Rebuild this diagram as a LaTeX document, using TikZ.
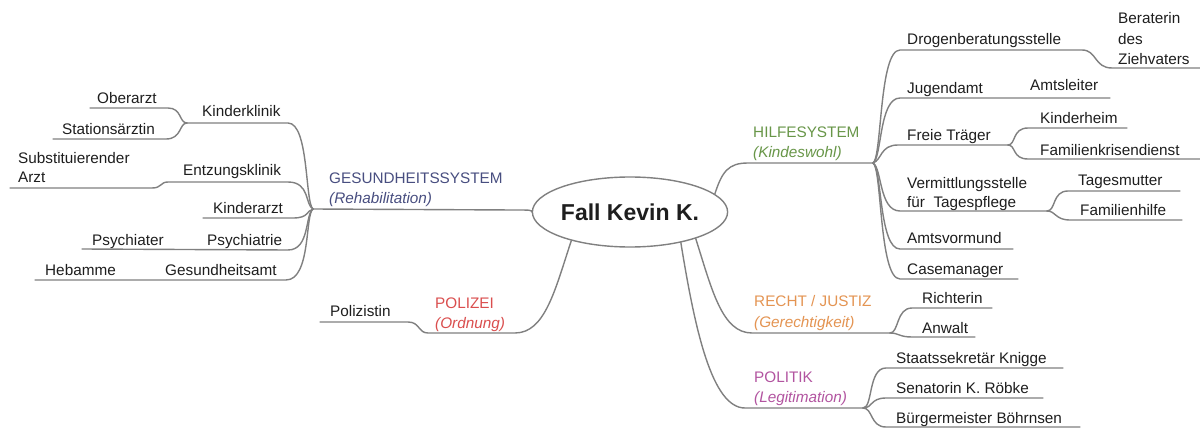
\documentclass[tikz,border=0pt]{standalone}
\usepackage{fontspec}
\setmainfont{Liberation Sans}
\usetikzlibrary{shapes.geometric}
\definecolor{ln}{RGB}{128,128,128}
\definecolor{txt}{RGB}{30,30,30}
\definecolor{cgs}{RGB}{72,78,128}
\definecolor{chs}{RGB}{104,150,72}
\definecolor{crj}{RGB}{228,148,82}
\definecolor{cpl}{RGB}{178,84,160}
\definecolor{cpo}{RGB}{218,78,78}
\begin{document}
\begin{tikzpicture}[x=1pt,y=-1pt,
  lbl/.style={anchor=base west, inner sep=0pt, font=\fontsize{15.3}{18}\selectfont, text=txt},
  cat/.style={lbl},
  sub/.style={lbl, font=\fontsize{15.3}{18}\selectfont\itshape},
  conn/.style={draw=ln, line width=1.4pt, line cap=round},
  center/.style={ellipse, draw=ln, line width=1.4pt, minimum width=175pt, minimum height=70pt, inner sep=0pt, font=\fontsize{23}{26}\selectfont\bfseries, text=txt}]
\useasboundingbox (0,0) rectangle (1200,428);
\fill[white] (0,0) rectangle (1200,428);

\node[center] (ell) at (630,212) {Fall Kevin K.};

% ---------- left: Gesundheitssystem ----------
\node[cat, text=cgs] (gs1) at (329,183) {GESUNDHEITSSYSTEM};
\node[sub, text=cgs] (gs2) at (329,203) {(Rehabilitation)};
\node[lbl] (kk) at (202,117) {Kinderklinik};
\node[lbl] (ob) at (97,103) {Oberarzt};
\node[lbl] (st) at (62,134) {Stationsärztin};
\node[lbl] (ek) at (183,175) {Entzungsklinik};
\node[lbl] (sa1) at (18,163) {Substituierender};
\node[lbl] (sa2) at (18,182) {Arzt};
\node[lbl] (ka) at (213,213) {Kinderarzt};
\node[lbl] (pt) at (207,245) {Psychiatrie};
\node[lbl] (pr) at (92,245) {Psychiater};
\node[lbl] (ga) at (165,275) {Gesundheitsamt};
\node[lbl] (hb) at (45,275) {Hebamme};

\coordinate (hubL) at (313,209);
\coordinate (kkHub) at (187,123);
\coordinate (obL) at (90,108);
\coordinate (stL) at (53,139);
\coordinate (saL) at (10,188);
\coordinate (kaL) at (203,218);
\coordinate (prL) at (82,249);
\coordinate (hbL) at (35,280);

\draw[conn] (ell.west) .. controls (532,210) and (530,210) .. (515,210) -- (hubL);
\draw[conn] (hubL) .. controls (305,203) and (309,123) .. (288,123) -- (kkHub);
\draw[conn] (kkHub) .. controls (179,123) and (182,108) .. (168,108) -- (obL);
\draw[conn] (kkHub) .. controls (179,123) and (182,139) .. (166,139) -- (stL);
\draw[conn] (hubL) .. controls (305,205) and (310,182) .. (288,182) -- (168,182)
  .. controls (160,182) and (162,188) .. (152,188) -- (saL);
\draw[conn] (hubL) .. controls (306,211) and (309,218) .. (293,218) -- (kaL);
\draw[conn] (hubL) .. controls (305,214) and (310,250) .. (288,250) -- (prL);
\draw[conn] (hubL) .. controls (305,214) and (311,280) .. (286,280) -- (hbL);

% ---------- Polizei ----------
\node[cat, text=cpo] (po1) at (435,308) {POLIZEI};
\node[sub, text=cpo] (po2) at (435,328) {(Ordnung)};
\node[lbl] (pz) at (330,316) {Polizistin};
\coordinate (pzL) at (320,322);
\draw[conn] (ell.206) .. controls (555,290) and (545,333) .. (515,333) -- (428,333)
  .. controls (418,333) and (420,322) .. (408,322) -- (pzL);

% ---------- right: Hilfesystem ----------
\node[cat, text=chs] (hs1) at (753,137) {HILFESYSTEM};
\node[sub, text=chs] (hs2) at (753,157) {(Kindeswohl)};
\node[lbl] (dg) at (907,45) {Drogenberatungsstelle};
\node[lbl] (bz1) at (1118,24) {Beraterin};
\node[lbl] (bz2) at (1118,45) {des};
\node[lbl] (bz3) at (1118,65) {Ziehvaters};
\node[lbl] (ja) at (907,93) {Jugendamt};
\node[lbl] (al) at (1030,91) {Amtsleiter};
\node[lbl] (ft) at (907,140) {Freie Träger};
\node[lbl] (kh) at (1040,124) {Kinderheim};
\node[lbl] (fk) at (1040,155) {Familienkrisendienst};
\node[lbl] (vs1) at (907,188) {Vermittlungsstelle};
\node[lbl] (vs2) at (907,207) {für\ \ Tagespflege};
\node[lbl] (tm) at (1078,185) {Tagesmutter};
\node[lbl] (fh) at (1080,215) {Familienhilfe};
\node[lbl] (av) at (907,243) {Amtsvormund};
\node[lbl] (cm) at (907,274) {Casemanager};

\coordinate (hubR) at (873,163);
\coordinate (bzR) at (1200,68);
\coordinate (alR) at (1110,98);
\coordinate (ftHub) at (1008,145);
\coordinate (khR) at (1127,128);
\coordinate (fkR) at (1200,159);
\coordinate (vsHub) at (1047,211);
\coordinate (tmR) at (1180,191);
\coordinate (fhR) at (1182,220);
\coordinate (avR) at (1013,249);
\coordinate (cmR) at (1018,279);

\draw[conn] (ell.12) .. controls (722,172) and (728,163) .. (748,163) -- (hubR);
\draw[conn] (hubR) .. controls (882,158) and (879,50) .. (900,50) -- (1082,50)
  .. controls (1097,50) and (1094,68) .. (1112,68) -- (bzR);
\draw[conn] (hubR) .. controls (882,158) and (879,98) .. (900,98) -- (alR);
\draw[conn] (hubR) .. controls (882,160) and (880,145) .. (898,145) -- (ftHub);
\draw[conn] (ftHub) .. controls (1016,145) and (1012,128) .. (1028,128) -- (khR);
\draw[conn] (ftHub) .. controls (1016,145) and (1012,159) .. (1028,159) -- (fkR);
\draw[conn] (hubR) .. controls (882,168) and (879,211) .. (900,211) -- (vsHub);
\draw[conn] (vsHub) .. controls (1056,211) and (1052,191) .. (1068,191) -- (tmR);
\draw[conn] (vsHub) .. controls (1056,211) and (1055,220) .. (1070,220) -- (fhR);
\draw[conn] (hubR) .. controls (882,168) and (879,249) .. (900,249) -- (avR);
\draw[conn] (hubR) .. controls (882,168) and (879,279) .. (900,279) -- (cmR);

% ---------- Recht / Justiz ----------
\node[cat, text=crj] (rj1) at (754,306) {RECHT / JUSTIZ};
\node[sub, text=crj] (rj2) at (754,327) {(Gerechtigkeit)};
\node[lbl] (ri) at (922,303) {Richterin};
\node[lbl] (an) at (922,333) {Anwalt};
\coordinate (rjHub) at (890,333);
\coordinate (riR) at (992,308);
\coordinate (anR) at (975,337);
\draw[conn] (ell.-22) .. controls (712,290) and (722,333) .. (752,333) -- (rjHub);
\draw[conn] (rjHub) .. controls (899,333) and (896,308) .. (912,308) -- (riR);
\draw[conn] (rjHub) .. controls (899,333) and (899,337) .. (912,337) -- (anR);

% ---------- Politik ----------
\node[cat, text=cpl] (pl1) at (754,382) {POLITIK};
\node[sub, text=cpl] (pl2) at (754,402) {(Legitimation)};
\node[lbl] (sk) at (896,363) {Staatssekretär Knigge};
\node[lbl] (sn) at (896,393) {Senatorin K. Röbke};
\node[lbl] (bm) at (896,423) {Bürgermeister Böhrnsen};
\coordinate (plHub) at (863,408);
\coordinate (skR) at (1063,368);
\coordinate (snR) at (1043,398);
\coordinate (bmR) at (1080,427);
\draw[conn] (ell.-31) .. controls (695,330) and (712,408) .. (745,408) -- (plHub);
\draw[conn] (plHub) .. controls (873,408) and (868,368) .. (886,368) -- (skR);
\draw[conn] (plHub) .. controls (873,408) and (870,398) .. (886,398) -- (snR);
\draw[conn] (plHub) .. controls (873,408) and (870,427) .. (886,427) -- (bmR);
\end{tikzpicture}
\end{document}
